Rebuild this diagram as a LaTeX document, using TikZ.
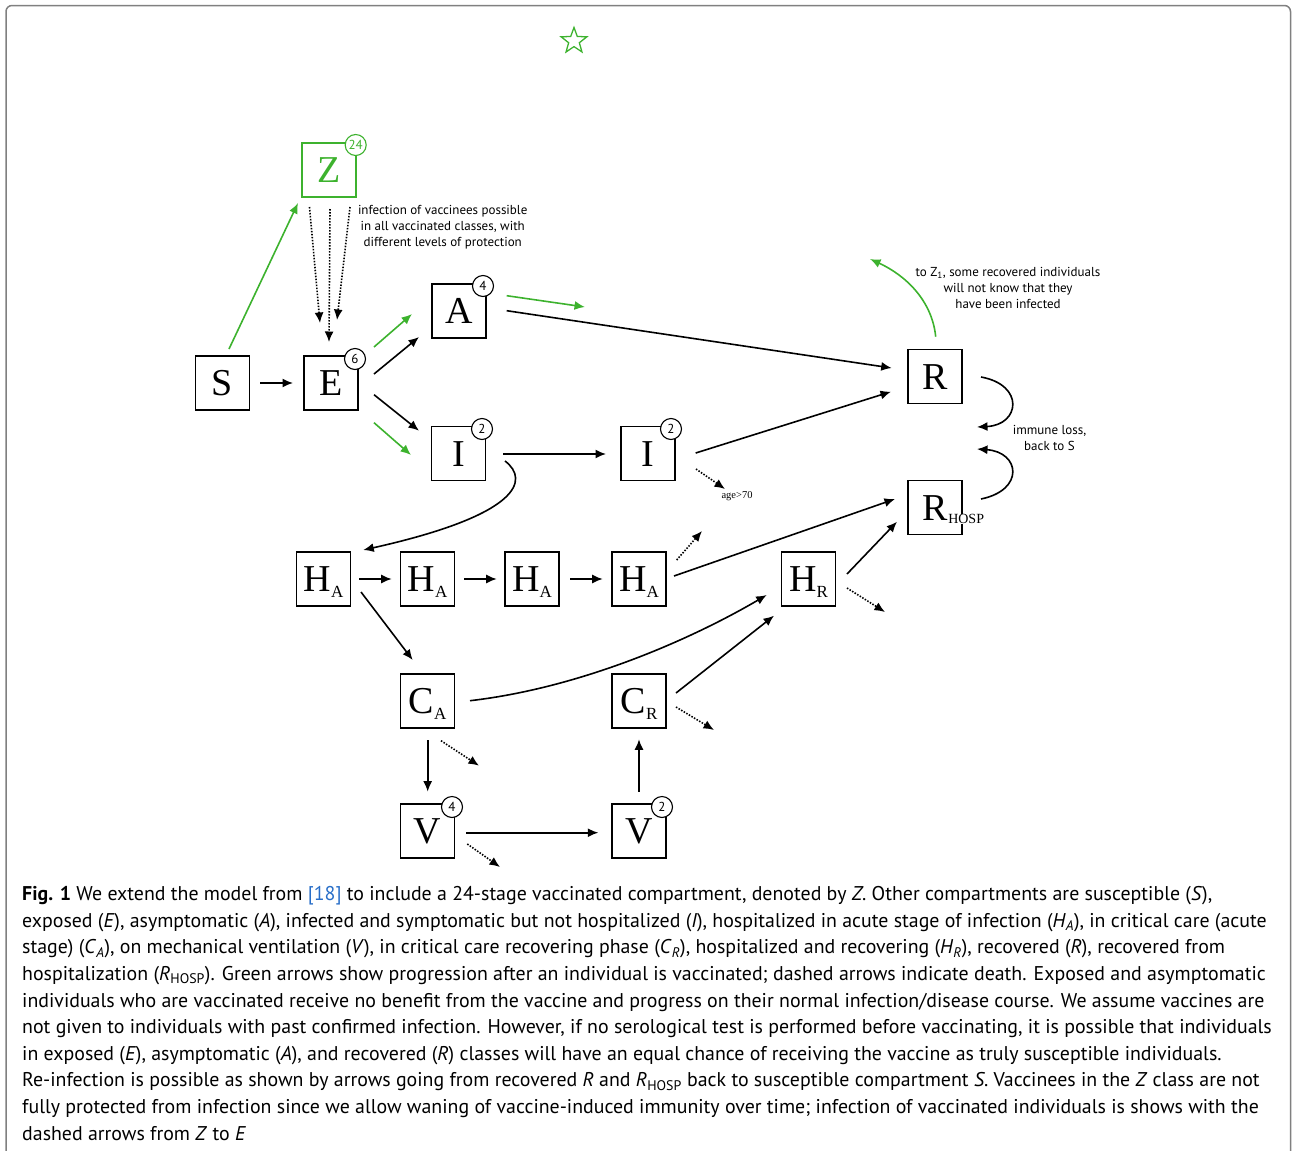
\documentclass[tikz,border=0pt]{standalone}
\usepackage{fontspec}
\setmainfont{PT Sans}
\newfontfamily\serifbox{Liberation Serif}
\usetikzlibrary{arrows.meta,calc,shapes.geometric}
\definecolor{vgreen}{RGB}{61,178,46}
\definecolor{framegray}{RGB}{128,128,128}
\definecolor{linkblue}{RGB}{40,110,200}
\newcommand\boxsub[1]{\raisebox{-6bp}{\fontsize{17bp}{17bp}\selectfont #1}}
\newcommand\isub[2]{\textit{#1}\textsubscript{\textit{#2}}}
\newcommand\rsub[2]{\textit{#1}\textsubscript{#2}}
\begin{document}
\begin{tikzpicture}[x=1bp,y=-1bp,
 comp/.style={draw, line width=1.8bp, minimum size=54bp, inner sep=0pt,
   font=\serifbox\fontsize{38bp}{38bp}\selectfont, text height=25bp, text depth=0pt},
 num/.style={circle, draw, fill=white, line width=1.1bp, minimum size=21bp, inner sep=0pt,
   font=\fontsize{13bp}{13bp}\selectfont},
 arr/.style={line width=1.6bp, -{Latex[length=10.5bp,width=9bp]}},
 garr/.style={arr, draw=vgreen, color=vgreen},
 darr/.style={arr, dash pattern=on 1.5bp off 1.5bp},
 lbl/.style={font=\fontsize{13bp}{16bp}\selectfont, align=center, inner sep=0pt},
 capline/.style={anchor=base west, inner sep=0pt, font=\fontsize{19.88bp}{24bp}\selectfont}
]
\path[use as bounding box] (0,0) rectangle (1292,1151);
\draw[framegray, line width=1.5bp, rounded corners=6bp] (6,5.5) rectangle (1290.5,1175);

\node[star, star points=5, star point ratio=2.4, draw=vgreen, line width=1.3bp,
  minimum size=27bp, inner sep=0pt] (star) at (574,41) {};

% compartments
\node[comp] (S) at (222.5,383) {S};
\node[comp] (E) at (331,383) {E};
\node[comp, draw=vgreen, text=vgreen] (Z) at (328.7,170) {Z};
\node[comp] (A) at (459,311) {A};
\node[comp] (I1) at (458.5,453.5) {I};
\node[comp] (I2) at (648,453.5) {I};
\node[comp] (R) at (935,376.5) {R};
\node[comp] (RH) at (935,507.5) {R\rlap{\raisebox{-3.5bp}{\setlength{\fboxsep}{0.6bp}\colorbox{white}{\fontsize{14bp}{14bp}\selectfont HOSP}}}};
\node[comp] (HA1) at (323.5,579) {H\boxsub{A}};
\node[comp] (HA2) at (427.5,579) {H\boxsub{A}};
\node[comp] (HA3) at (532,579) {H\boxsub{A}};
\node[comp] (HA4) at (639,579) {H\boxsub{A}};
\node[comp] (HR) at (808.5,579) {H\boxsub{R}};
\node[comp] (CA) at (427.5,701) {C\boxsub{A}};
\node[comp] (CR) at (639,701) {C\boxsub{R}};
\node[comp] (V1) at (427.5,831) {V};
\node[comp] (V2) at (639,831) {V};

% stage counts
\node[num, draw=vgreen, text=vgreen] (cZ) at ($(Z)+(27,-25)$) {24};
\node[num] (cE) at ($(E)+(24,-24)$) {6};
\node[num] (cA) at ($(A)+(24,-25)$) {4};
\node[num] (cI1) at ($(I1)+(23.5,-24.5)$) {2};
\node[num] (cI2) at ($(I2)+(23,-24.5)$) {2};
\node[num] (cV1) at ($(V1)+(24.5,-24)$) {4};
\node[num] (cV2) at ($(V2)+(23,-24)$) {2};

% labels
\node[lbl] (infl) at (442.7,227) {infection of vaccinees possible\\in all vaccinated classes, with\\different levels of protection};
\node[lbl] (zl) at (1008,287.7) {to Z\textsubscript{1}, some recovered individuals\\will not know that they\\have been infected};
\node[lbl] (il) at (1049.5,437.5) {immune loss,\\back to S};
\node[inner sep=0pt, font=\serifbox\fontsize{10.5bp}{12bp}\selectfont] (agel) at (737,496.5) {age>70};

% connectors
\draw[arr] ($(S)+(37.5,0)$) -- ($(E)+(-38,0)$);
\draw[garr] ($(S)+(6.5,-34)$) -- ($(Z)+(-30.7,33)$);
\draw[darr] ($(Z)+(-19.2,37)$) -- ($(E)+(-11,-60)$);
\draw[darr] ($(Z)+(1.3,39)$) -- ($(E)+(-2,-41)$);
\draw[darr] ($(Z)+(21.3,37)$) -- ($(E)+(6,-63)$);
\draw[garr] ($(E)+(43,-36)$) -- ($(A)+(-47,3)$);
\draw[arr] ($(E)+(43,-9)$) -- ($(A)+(-40,26)$);
\draw[arr] ($(E)+(43,11.7)$) -- ($(I1)+(-39.5,-22.8)$);
\draw[garr] ($(E)+(43,39.7)$) -- ($(I1)+(-47.5,1.5)$);
\draw[garr] ($(A)+(47.7,-15.3)$) -- ($(A)+(126,-4)$);
\draw[arr] ($(A)+(47.7,-0.3)$) -- ($(R)+(-43.3,-8.5)$);
\draw[arr] ($(I1)+(44.5,0.5)$) -- ($(I2)+(-42,0.5)$);
\draw[arr] ($(I2)+(47.7,-0.5)$) -- ($(R)+(-44,15.2)$);
\draw[darr] ($(I2)+(48,15.5)$) -- ($(I2)+(77,35.5)$);
\draw[arr] ($(I1)+(46.5,7.5)$) .. controls ($(I1)+(71.5,26.5)$) and ($(I1)+(61.5,61.5)$) .. ($(HA1)+(39.8,-29)$);
\draw[arr] ($(HA1)+(35.5,0)$) -- ($(HA2)+(-35.8,0)$);
\draw[arr] ($(HA2)+(36.5,0)$) -- ($(HA3)+(-35.3,0)$);
\draw[arr] ($(HA3)+(38,0)$) -- ($(HA4)+(-36.3,0)$);
\draw[arr] ($(HA1)+(37.5,13)$) -- ($(CA)+(-14.8,-41)$);
\draw[darr] ($(HA4)+(37.7,-19)$) -- ($(HA4)+(63,-48)$);
\draw[arr] ($(HA4)+(35,-3)$) -- ($(RH)+(-40,-8.5)$);
\draw[arr] ($(HR)+(38.5,-5)$) -- ($(RH)+(-38,14.2)$);
\draw[darr] ($(HR)+(38.5,9)$) -- ($(HR)+(76.5,33)$);
\draw[arr] ($(CA)+(42.5,-0.3)$) .. controls ($(CA)+(152.5,-13)$) and ($(HR)+(-118.5,61)$) .. ($(HR)+(-41.8,16)$);
\draw[arr] ($(CR)+(37,-8)$) -- ($(HR)+(-34.5,36.7)$);
\draw[darr] ($(CR)+(37,6)$) -- ($(CR)+(75,29)$);
\draw[arr] ($(CA)+(0.2,39)$) -- ($(V1)+(0.2,-39.3)$);
\draw[darr] ($(CA)+(13.5,39.7)$) -- ($(CA)+(51.5,64.7)$);
\draw[arr] ($(V1)+(38.5,1.7)$) -- ($(V2)+(-40.7,1.7)$);
\draw[darr] ($(V1)+(39.8,13)$) -- ($(V1)+(72.5,36)$);
\draw[arr] ($(V2)+(0,-39.3)$) -- ($(CR)+(0,38.3)$);
\draw[garr] ($(R)+(0.7,-39.8)$) .. controls ($(R)+(-3,-76.5)$) and ($(R)+(-30,-101.5)$) .. ($(R)+(-65,-117.5)$);
\draw[arr] ($(R)+(46,0.5)$) .. controls ($(R)+(90,8.5)$) and ($(R)+(85,48.5)$) .. ($(R)+(42,50.5)$);
\draw[arr] ($(RH)+(46,-8.5)$) .. controls ($(RH)+(90,-17.5)$) and ($(RH)+(85,-55.5)$) .. ($(RH)+(42,-58.5)$);

% caption
\node[capline] (c1) at (22,900.7) {\textbf{Fig. 1} We extend the model from {\color{linkblue}[18]} to include a 24-stage vaccinated compartment, denoted by \textit{Z}. Other compartments are susceptible (\textit{S}),};
\node[capline] (c2) at (22,927.3) {exposed (\textit{E}), asymptomatic (\textit{A}), infected and symptomatic but not hospitalized (\textit{I}), hospitalized in acute stage of infection (\isub{H}{A}), in critical care (acute};
\node[capline] (c3) at (22,953.9) {stage) (\isub{C}{A}), on mechanical ventilation (\textit{V}), in critical care recovering phase (\isub{C}{R}), hospitalized and recovering (\isub{H}{R}), recovered (\textit{R}), recovered from};
\node[capline] (c4) at (22,980.5) {hospitalization (\rsub{R}{HOSP}). Green arrows show progression after an individual is vaccinated; dashed arrows indicate death. Exposed and asymptomatic};
\node[capline] (c5) at (22,1007.1) {individuals who are vaccinated receive no benefit from the vaccine and progress on their normal infection/disease course. We assume vaccines are};
\node[capline] (c6) at (22,1033.7) {not given to individuals with past confirmed infection. However, if no serological test is performed before vaccinating, it is possible that individuals};
\node[capline] (c7) at (22,1060.3) {in exposed (\textit{E}), asymptomatic (\textit{A}), and recovered (\textit{R}) classes will have an equal chance of receiving the vaccine as truly susceptible individuals.};
\node[capline] (c8) at (22,1086.9) {Re-infection is possible as shown by arrows going from recovered \textit{R} and \rsub{R}{HOSP} back to susceptible compartment \textit{S}. Vaccinees in the \textit{Z} class are not};
\node[capline] (c9) at (22,1113.5) {fully protected from infection since we allow waning of vaccine-induced immunity over time; infection of vaccinated individuals is shows with the};
\node[capline] (c10) at (22,1140.1) {dashed arrows from \textit{Z} to \textit{E}};
\end{tikzpicture}
\end{document}
